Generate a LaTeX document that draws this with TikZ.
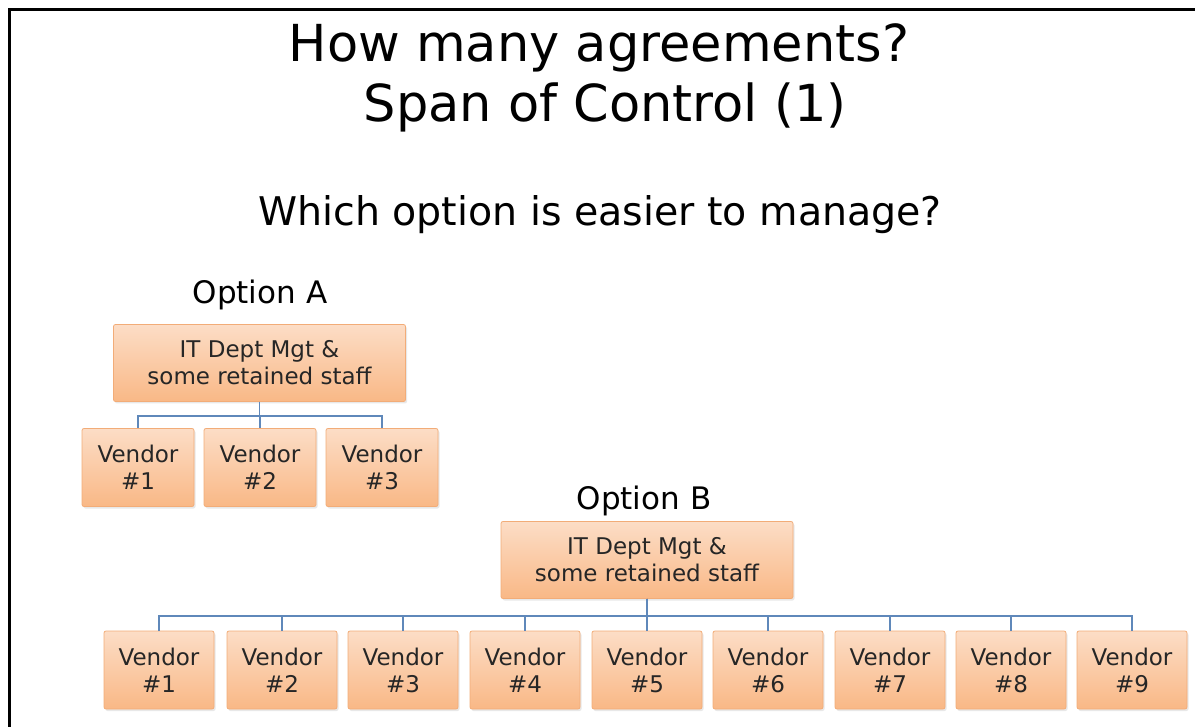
\documentclass[tikz,border=0pt]{standalone}
\usepackage{fontspec}
\setmainfont{DejaVu Sans}
\usetikzlibrary{shadows}
\definecolor{boxtop}{HTML}{FCDDC6}
\definecolor{boxbot}{HTML}{F9B886}
\definecolor{boxline}{HTML}{F2AC78}
\definecolor{treeline}{HTML}{5F88BA}
\definecolor{txt}{HTML}{262626}

\begin{document}
\begin{tikzpicture}[x=1pt, y=-1pt,
    box/.style={draw=boxline, line width=0.8pt, rounded corners=2pt,
      top color=boxtop, bottom color=boxbot,
      drop shadow={shadow xshift=1.5pt, shadow yshift=-2pt, opacity=0.18},
      text=txt, align=center, inner sep=0pt, font=\fontsize{23}{27}\selectfont},
    mgt/.style={box, minimum width=292pt, minimum height=77pt},
    vendor/.style={box, minimum width=112pt, minimum height=78pt},
    tree/.style={draw=treeline, line width=1.3pt},
    label/.style={anchor=base, text=black, inner sep=0pt}]
    \useasboundingbox (0,0) rectangle (1195,727);
    \draw[line width=3pt] (9,727) -- (9,10) -- (1195,10);

    \node[label, font=\fontsize{51}{60}\selectfont] (title) at (599,62) {How many agreements?};
    \node[label, font=\fontsize{51}{60}\selectfont] (subtitle) at (605,122) {Span of Control (1)};
    \node[label, font=\fontsize{39.5}{46}\selectfont] (question) at (600,226) {Which option is easier to manage?};

    % option A
    \def \rowA {467.5}
    \node[label, font=\fontsize{31}{36}\selectfont] (optA) at (260,304) {Option A};
    \node[mgt] (mgtA) at (259.5,363) {IT Dept Mgt \&\\some retained staff};
    \node[vendor] (vA1) at (138,\rowA) {Vendor\\\#1};
    \node[vendor] (vA2) at (260,\rowA) {Vendor\\\#2};
    \node[vendor] (vA3) at (382,\rowA) {Vendor\\\#3};
    \draw[tree] (mgtA.south) -- ++(0,14) -| (vA1.north);
    \draw[tree] (mgtA.south) -- ++(0,14) -| (vA2.north);
    \draw[tree] (mgtA.south) -- ++(0,14) -| (vA3.north);

    % option B
    \def \rowB {670}
    \node[label, font=\fontsize{31}{36}\selectfont] (optB) at (644,509) {Option B};
    \node[mgt] (mgtB) at (647,560) {IT Dept Mgt \&\\some retained staff};
    \node[vendor, minimum width=110pt] (vB1) at (159,\rowB) {Vendor\\\#1};
    \node[vendor, minimum width=110pt] (vB2) at (282,\rowB) {Vendor\\\#2};
    \node[vendor, minimum width=110pt] (vB3) at (403,\rowB) {Vendor\\\#3};
    \node[vendor, minimum width=110pt] (vB4) at (525,\rowB) {Vendor\\\#4};
    \node[vendor, minimum width=110pt] (vB5) at (647,\rowB) {Vendor\\\#5};
    \node[vendor, minimum width=110pt] (vB6) at (768,\rowB) {Vendor\\\#6};
    \node[vendor, minimum width=110pt] (vB7) at (890,\rowB) {Vendor\\\#7};
    \node[vendor, minimum width=110pt] (vB8) at (1011,\rowB) {Vendor\\\#8};
    \node[vendor, minimum width=110pt] (vB9) at (1132,\rowB) {Vendor\\\#9};
    \draw[tree] (mgtB.south) -- ++(0,17) -| (vB1.north);
    \draw[tree] (mgtB.south) -- ++(0,17) -| (vB2.north);
    \draw[tree] (mgtB.south) -- ++(0,17) -| (vB3.north);
    \draw[tree] (mgtB.south) -- ++(0,17) -| (vB4.north);
    \draw[tree] (mgtB.south) -- ++(0,17) -| (vB5.north);
    \draw[tree] (mgtB.south) -- ++(0,17) -| (vB6.north);
    \draw[tree] (mgtB.south) -- ++(0,17) -| (vB7.north);
    \draw[tree] (mgtB.south) -- ++(0,17) -| (vB8.north);
    \draw[tree] (mgtB.south) -- ++(0,17) -| (vB9.north);
\end{tikzpicture}
\end{document}
